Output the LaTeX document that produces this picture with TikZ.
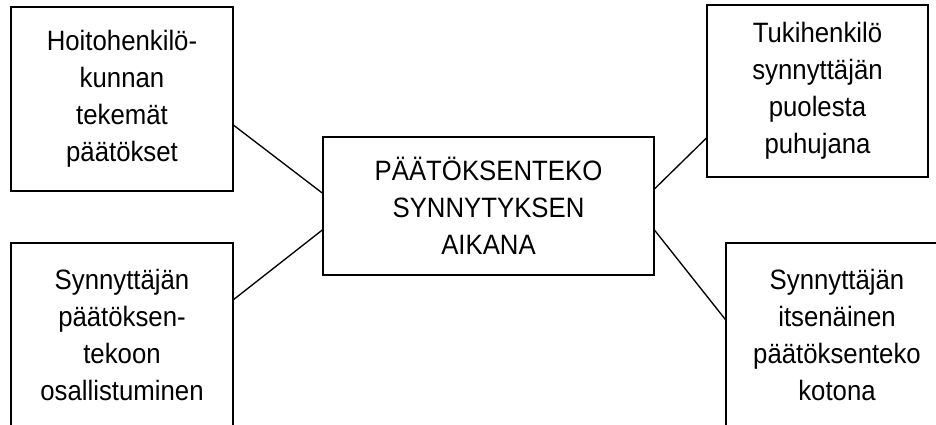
\documentclass[tikz,border=0pt]{standalone}
\usepackage{fontspec}
\setmainfont{Liberation Sans}[FakeStretch=0.92]
\usetikzlibrary{calc}

\def\boxline{1.2pt}
\def\txt{\fontsize{21}{27.75}\selectfont}
\tikzstyle{topic}=[draw,rectangle,line width=\boxline,inner sep=0pt,outer sep=0pt,
                   align=center,font=\txt,minimum width=166.5pt,minimum height=138pt]
\tikzstyle{core}=[topic,minimum width=248.25pt,minimum height=103.5pt]
\tikzstyle{link}=[line width=1pt]

\begin{document}
\begin{tikzpicture}[x=0.75pt,y=-0.75pt]
  % page frame, the lower and right boxes run off it
  \path[use as bounding box,clip] (0,0) rectangle (936,425);

  % Place the main theme
  \node[core] (core) at (488.5,206) {PÄÄTÖKSENTEKO\\SYNNYTYKSEN\\AIKANA};

  \node[topic] (staff) at (122,99) {Hoitohenkilö-\\kunnan\\tekemät\\päätökset};
  \node[topic] (part) at (122,335) {Synnyttäjän\\päätöksen-\\tekoon\\osallistuminen};
  \node[topic,minimum width=165.75pt,minimum height=129pt] (support) at (817.5,91)
       {Tukihenkilö\\synnyttäjän\\puolesta\\puhujana};
  \node[topic] (home) at (837,335) {Synnyttäjän\\itsenäinen\\päätöksenteko\\kotona};

  \path[link] ($(staff.north east)!0.64!(staff.south east)$)
       edge ($(core.north west)!0.41!(core.south west)$);
  \path[link] ($(part.north east)!0.31!(part.south east)$)
       edge ($(core.north west)!0.67!(core.south west)$);
  \path[link] ($(core.north east)!0.38!(core.south east)$)
       edge ($(support.north west)!0.77!(support.south west)$);
  \path[link] ($(core.north east)!0.67!(core.south east)$)
       edge ($(home.north west)!0.42!(home.south west)$);
\end{tikzpicture}
\end{document}
